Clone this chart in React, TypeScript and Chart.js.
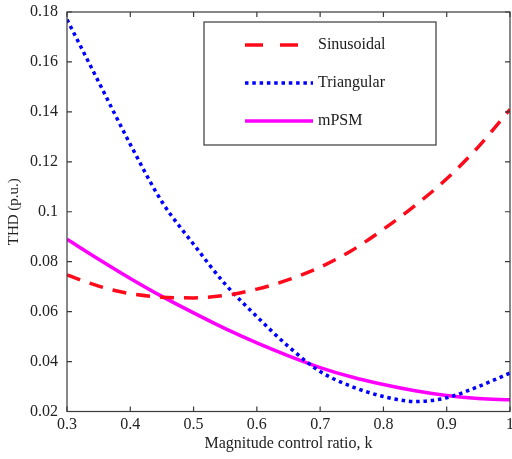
import React, { useEffect, useRef } from "react";
import { Chart, registerables } from "chart.js";

Chart.register(...registerables);

const kValues = [0.3, 0.35, 0.4, 0.45, 0.5, 0.55, 0.6, 0.65, 0.7, 0.75, 0.8, 0.85, 0.9, 0.95, 1.0];
const sinusoidal = [0.0747, 0.0702, 0.0672, 0.0658, 0.0655, 0.0665, 0.0690, 0.0728, 0.0778, 0.0845, 0.0930, 0.1025, 0.1132, 0.1260, 0.1410];
const triangular = [0.1770, 0.1520, 0.1270, 0.1040, 0.0870, 0.0710, 0.0580, 0.0460, 0.0360, 0.0300, 0.0260, 0.0240, 0.0255, 0.0300, 0.0354];
const mpsm = [0.0890, 0.0810, 0.0733, 0.0661, 0.0595, 0.0532, 0.0475, 0.0423, 0.0376, 0.0338, 0.0308, 0.0283, 0.0264, 0.0252, 0.0247];

const seriesLabels = ["Sinusoidal", "Triangular", "mPSM"];
const xTickValues = [0.3, 0.4, 0.5, 0.6, 0.7, 0.8, 0.9, 1.0];
const xTickLabels = ["0.3", "0.4", "0.5", "0.6", "0.7", "0.8", "0.9", "1"];
const yTickValues = [0.02, 0.04, 0.06, 0.08, 0.1, 0.12, 0.14, 0.16, 0.18];
const yTickLabels = ["0.02", "0.04", "0.06", "0.08", "0.1", "0.12", "0.14", "0.16", "0.18"];

const FONT = "'Liberation Serif', 'DejaVu Serif', serif";
const AXIS_COLOR = "#3a3a3a";

const boxPlugin = {
  id: "matlabBox",
  afterDatasetsDraw(chart: any) {
    const { ctx, chartArea } = chart;
    const { left, right, top, bottom } = chartArea;
    const xs = chart.scales.x;
    const ys = chart.scales.y;
    ctx.save();
    ctx.strokeStyle = AXIS_COLOR;
    ctx.lineWidth = 1.2;
    ctx.strokeRect(left, top, right - left, bottom - top);
    const tl = 5;
    ctx.beginPath();
    xTickValues.forEach((v) => {
      const px = xs.getPixelForValue(v);
      ctx.moveTo(px, bottom);
      ctx.lineTo(px, bottom - tl);
      ctx.moveTo(px, top);
      ctx.lineTo(px, top + tl);
    });
    yTickValues.forEach((v) => {
      const py = ys.getPixelForValue(v);
      ctx.moveTo(left, py);
      ctx.lineTo(left + tl, py);
      ctx.moveTo(right, py);
      ctx.lineTo(right - tl, py);
    });
    ctx.stroke();

    // legend box
    const bx = 204, by = 22, bw = 232, bh = 123;
    ctx.fillStyle = "#ffffff";
    ctx.fillRect(bx, by, bw, bh);
    ctx.strokeStyle = AXIS_COLOR;
    ctx.lineWidth = 1.2;
    ctx.strokeRect(bx, by, bw, bh);
    const rows = [45, 83, 121];
    chart.data.datasets.forEach((ds: any, i: number) => {
      const y = rows[i];
      ctx.save();
      ctx.strokeStyle = ds.borderColor;
      ctx.lineWidth = ds.borderWidth;
      ctx.setLineDash(i === 0 ? [18, 17] : ds.borderDash || []);
      ctx.lineCap = "butt";
      ctx.beginPath();
      ctx.moveTo(245, y);
      ctx.lineTo(313, y);
      ctx.stroke();
      ctx.restore();
      ctx.fillStyle = "#1a1a1a";
      ctx.font = "16px " + FONT;
      ctx.textBaseline = "middle";
      ctx.textAlign = "left";
      ctx.fillText(ds.label, 318, y);
    });
    ctx.restore();
  },
};

export default function App() {
  const canvasRef = useRef<HTMLCanvasElement | null>(null);

  useEffect(() => {
    const canvas = canvasRef.current;
    if (!canvas) return;
    const chart = new Chart(canvas, {
      type: "line",
      data: {
        labels: kValues,
        datasets: [
          {
            label: seriesLabels[0],
            data: kValues.map((k, i) => ({ x: k, y: sinusoidal[i] })),
            borderColor: "#ff0a1a",
            borderWidth: 3.5,
            borderDash: [14, 10],
            pointRadius: 0,
            cubicInterpolationMode: "monotone",
            fill: false,
          },
          {
            label: seriesLabels[1],
            data: kValues.map((k, i) => ({ x: k, y: triangular[i] })),
            borderColor: "#0000ff",
            borderWidth: 3.5,
            borderDash: [3.5, 3.8],
            pointRadius: 0,
            cubicInterpolationMode: "monotone",
            fill: false,
          },
          {
            label: seriesLabels[2],
            data: kValues.map((k, i) => ({ x: k, y: mpsm[i] })),
            borderColor: "#ff00ff",
            borderWidth: 3.5,
            pointRadius: 0,
            cubicInterpolationMode: "monotone",
            fill: false,
          },
        ],
      },
      options: {
        animation: false,
        responsive: false,
        devicePixelRatio: 1,
        layout: { padding: { left: 0, top: 12, right: 30, bottom: 0 } },
        plugins: {
          legend: { display: false },
          tooltip: { enabled: false },
        },
        scales: {
          x: {
            type: "linear",
            min: 0.3,
            max: 1.0,
            grid: { display: false, drawTicks: false, tickLength: 0 },
            border: { display: false },
            afterBuildTicks: (scale: any) => {
              scale.ticks = xTickValues.map((v) => ({ value: v }));
            },
            afterFit: (scale: any) => {
              scale.height = 47.5;
            },
            ticks: {
              autoSkip: false,
              maxRotation: 0,
              padding: 4,
              color: "#222",
              font: { family: FONT, size: 16, lineHeight: 1.2 },
              callback: (_v: any, i: number) => xTickLabels[i] ?? "",
            },
            title: {
              display: true,
              text: "Magnitude control ratio, k",
              color: "#222",
              font: { family: FONT, size: 16, lineHeight: 1.2 },
              padding: { top: 0, bottom: 6 },
            },
          },
          y: {
            type: "linear",
            min: 0.02,
            max: 0.18,
            grid: { display: false, drawTicks: false, tickLength: 0 },
            border: { display: false },
            afterBuildTicks: (scale: any) => {
              scale.ticks = yTickValues.map((v) => ({ value: v }));
            },
            afterFit: (scale: any) => {
              scale.width = 67;
              scale.paddingTop = 0;
              scale.paddingBottom = 0;
            },
            ticks: {
              autoSkip: false,
              padding: 9,
              color: "#222",
              font: { family: FONT, size: 16, lineHeight: 1.2 },
              callback: (_v: any, i: number) => yTickLabels[i] ?? "",
            },
            title: {
              display: true,
              text: "THD (p.u.)",
              color: "#222",
              font: { family: FONT, size: 15, lineHeight: 1.2 },
              padding: { top: 5, bottom: 0 },
            },
          },
        },
      },
      plugins: [boxPlugin],
    } as any);
    return () => chart.destroy();
  }, []);

  return (
    <div
      style={{
        position: "absolute",
        left: 0,
        top: 0,
        width: 512,
        height: 459,
        overflow: "hidden",
        background: "#fff",
      }}
    >
      <canvas ref={canvasRef} width={540} height={459} style={{ display: "block", width: 540, height: 459 }} />
    </div>
  );
}
